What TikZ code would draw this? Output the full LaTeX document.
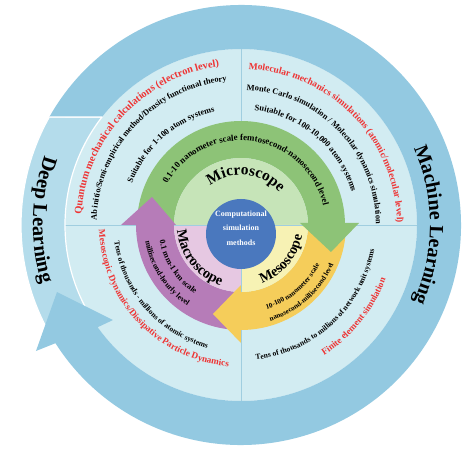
\documentclass[tikz,border=0pt]{standalone}
\usepackage{fontspec}
\setmainfont{Liberation Serif}
\usetikzlibrary{decorations.text}
\definecolor{ringdark}{RGB}{147,201,225}
\definecolor{ringlight}{RGB}{180,220,235}
\definecolor{disk}{RGB}{210,236,242}
\definecolor{divider}{RGB}{160,206,224}
\definecolor{gdark}{RGB}{141,195,119}
\definecolor{glight}{RGB}{198,228,184}
\definecolor{ydark}{RGB}{245,205,90}
\definecolor{ylight}{RGB}{247,242,180}
\definecolor{pdark}{RGB}{182,124,184}
\definecolor{plight}{RGB}{230,200,226}
\definecolor{cblue}{RGB}{74,120,190}
\definecolor{qred}{RGB}{238,52,52}
% #1 radius, #2 start angle, #3 end angle, #4 font size, #5 colour, #6 text
\newcommand{\arctext}[6]{%
  \path[decorate,decoration={text along path,text align=center,
    text={|\fontsize{#4}{#4}\selectfont\bfseries\color{#5}|#6}}]
    (#2:#1) arc[start angle=#2,end angle=#3,radius=#1];}
\begin{document}
\begin{tikzpicture}[x=1pt,y=1pt,
  divline/.style={draw=divider,line width=0.8pt},
  arrowtri/.style={line join=miter}]
\fill[white] (-241,-225) rectangle (228,225);
\useasboundingbox (-241,-225) rectangle (228,225);
% light disk
\fill[disk] (0,0) circle[radius=176];
\draw[divline] (0,176) -- (0,-176);
\draw[divline] (-176,0) -- (176,0);
% deep learning band
\filldraw[fill=ringlight,draw=white,line width=1.2pt]
  (142.14:176) -- (150.6:220) arc[start angle=150.6,end angle=208,radius=220]
  -- (208:176) arc[start angle=208,end angle=142.14,radius=176] -- cycle;
% machine learning ring with arrowhead
\fill[ringdark] (150.6:220) arc[start angle=150.6,end angle=-147.5,radius=220]
  -- (-205,-126) -- (-184,-67) -- (-128,-95)
  -- (-144.5:176) arc[start angle=-144.5,end angle=142.14,radius=176] -- cycle;
\draw[white,line width=1.2pt] (142.14:176) -- (150.6:220);
% dark bands
\fill[gdark] (180:104) arc[start angle=180,end angle=0,radius=104]
  -- (0:67) arc[start angle=0,end angle=180,radius=67] -- cycle;
\fill[ydark] (0:105) arc[start angle=0,end angle=-90,radius=105]
  -- (-90:67) arc[start angle=-90,end angle=0,radius=67] -- cycle;
\fill[pdark] (-90:105) arc[start angle=-90,end angle=-180,radius=105]
  -- (180:67) arc[start angle=180,end angle=270,radius=67] -- cycle;
% light bands
\fill[glight] (0,0) -- (0:67) arc[start angle=0,end angle=180,radius=67] -- cycle;
\fill[ylight] (0,0) -- (0:67) arc[start angle=0,end angle=-90,radius=67] -- cycle;
\fill[plight] (0,0) -- (-90:67) arc[start angle=-90,end angle=-180,radius=67] -- cycle;
\draw[divline] (-67,0) -- (67,0);
\draw[divline] (0,0) -- (0,-67);
% arrowheads of the inner ring
\fill[gdark,arrowtri] (59,2) -- (118,2) -- (90,-27) -- cycle;
\fill[ydark,arrowtri] (0,-60) -- (0,-118) -- (-28,-89) -- cycle;
\fill[pdark,arrowtri] (-65,0) -- (-120,0) -- (-89,28) -- cycle;
% centre
\node[circle,fill=cblue,minimum size=70pt,inner sep=0pt] (core) at (0,-9) {};
\node[text=white,align=center,font=\fontsize{8}{14.5}\selectfont\bfseries] (coretext) at (0,-3)
  {Computational\\simulation\\methods};
% texts, clockwise (upper half)
\arctext{160}{212}{62}{10.4}{qred}{Quantum mechanical calculations (electron level)}
\arctext{144.5}{212}{62}{8.3}{black}{Ab initio/Semi-empirical method/Density functional theory}
\arctext{116.5}{191}{71}{8.4}{black}{Suitable for 1-100 atom systems}
\arctext{156}{119}{-31}{9.5}{qred}{Molecular mechanics simulations (atomic/molecular level)}
\arctext{135}{119}{-31}{8.4}{black}{Monte Carlo simulation / Molecular dynamics simulation}
\arctext{115.5}{110}{-10}{8.5}{black}{Suitable for 100-10,000 atom systems}
\arctext{84.5}{177}{-13}{8.9}{black}{0.1-10 nanometer scale femtosecond-nanosecond level}
\arctext{50}{150}{18}{15.5}{black}{Microscope}
\arctext{189}{45}{-45}{20}{black}{Machine Learning}
% texts, counter-clockwise (lower half)
\arctext{142}{163}{284}{9.2}{qred}{Mesoscopic Dynamics/Dissipative Particle Dynamics}
\arctext{127.5}{161}{281}{7.6}{black}{Tens of thousands - millions of atomic systems}
\arctext{97}{168}{258}{7.8}{black}{millisecond-hourly level}
\arctext{83}{168}{259}{8.2}{black}{0.1 mm-1 km scale}
\arctext{64}{168}{268}{14.5}{black}{Macroscope}
\arctext{62}{270}{370}{14.2}{black}{Mesoscope}
\arctext{88}{265}{355}{7.1}{black}{10-100 nanometer scale}
\arctext{100.5}{267}{357}{7.1}{black}{nanosecond-millisecond level}
\arctext{135.5}{258}{368}{7.6}{black}{Tens of thousands to millions of network unit systems}
\arctext{154.5}{281}{361}{9.2}{qred}{Finite element simulation}
\arctext{208}{133.5}{223.5}{20.5}{black}{Deep Learning}
\end{tikzpicture}
\end{document}
